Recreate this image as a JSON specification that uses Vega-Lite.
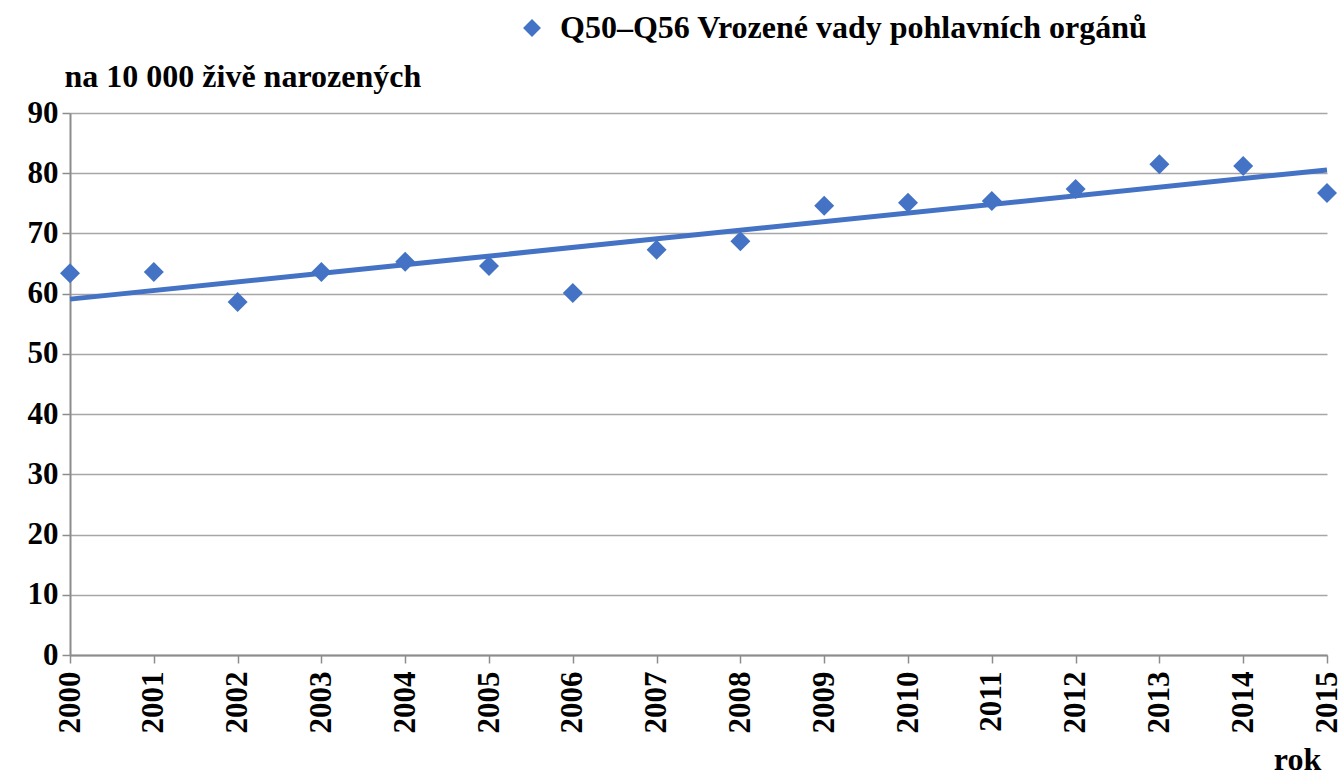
{
  "$schema": "https://vega.github.io/schema/vega-lite/v6.json",
  "width": 1257,
  "height": 542,
  "autosize": "none",
  "padding": {"left": 70, "top": 113, "right": 14, "bottom": 121},
  "background": "white",
  "config": {
    "font": "Liberation Serif",
    "view": {"stroke": null},
    "axis": {
      "labelFont": "Liberation Serif",
      "labelFontWeight": "bold",
      "labelFontSize": 31,
      "labelColor": "black",
      "titleFont": "Liberation Serif",
      "titleFontWeight": "bold",
      "titleFontSize": 32,
      "titleColor": "black",
      "domainColor": "#8c8c8c",
      "domainWidth": 2,
      "tickColor": "#8c8c8c",
      "tickWidth": 1.5,
      "tickSize": 8,
      "gridColor": "#a6a6a6",
      "gridWidth": 1.5
    },
    "legend": {
      "labelFont": "Liberation Serif",
      "labelFontWeight": "bold",
      "labelFontSize": 32,
      "labelColor": "black"
    }
  },
  "data": {
    "values": [
      {"year": 2000, "value": 63.4},
      {"year": 2001, "value": 63.6},
      {"year": 2002, "value": 58.6},
      {"year": 2003, "value": 63.6},
      {"year": 2004, "value": 65.3},
      {"year": 2005, "value": 64.6},
      {"year": 2006, "value": 60.1},
      {"year": 2007, "value": 67.3},
      {"year": 2008, "value": 68.7},
      {"year": 2009, "value": 74.6},
      {"year": 2010, "value": 75.1},
      {"year": 2011, "value": 75.4},
      {"year": 2012, "value": 77.4},
      {"year": 2013, "value": 81.5},
      {"year": 2014, "value": 81.2},
      {"year": 2015, "value": 76.7}
    ]
  },
  "layer": [
    {
      "transform": [
        {"regression": "value", "on": "year", "method": "linear", "extent": [2000, 2015]}
      ],
      "mark": {"type": "line", "color": "#4472C4", "strokeWidth": 5, "clip": false},
      "encoding": {
        "x": {"field": "year", "type": "quantitative"},
        "y": {"field": "value", "type": "quantitative"}
      }
    },
    {
      "transform": [{"calculate": "'Q50–Q56 Vrozené vady pohlavních orgánů'", "as": "series"}],
      "mark": {"type": "point", "shape": "diamond", "filled": true, "size": 400, "opacity": 1, "clip": false},
      "encoding": {
        "x": {
          "field": "year",
          "type": "quantitative",
          "scale": {"domain": [2000, 2015], "nice": false, "zero": false},
          "axis": {
            "values": [2000, 2001, 2002, 2003, 2004, 2005, 2006, 2007, 2008, 2009, 2010, 2011, 2012, 2013, 2014, 2015],
            "format": "d",
            "labelAngle": -90,
            "labelPadding": 8,
            "grid": false,
            "title": "rok",
            "titleAnchor": null,
            "titleX": 1227,
            "titleY": 114,
            "titleAlign": "center",
            "titleBaseline": "alphabetic"
          }
        },
        "y": {
          "field": "value",
          "type": "quantitative",
          "scale": {"domain": [0, 90], "nice": false},
          "axis": {
            "values": [0, 10, 20, 30, 40, 50, 60, 70, 80, 90],
            "labelPadding": 4,
            "title": "na 10 000 živě narozených",
            "titleAngle": 0,
            "titleAnchor": null,
            "titleX": -6,
            "titleY": -27,
            "titleAlign": "left",
            "titleBaseline": "alphabetic"
          }
        },
        "color": {
          "field": "series",
          "type": "nominal",
          "scale": {"range": ["#4472C4"]},
          "legend": {
            "title": null,
            "orient": "none",
            "legendX": 446,
            "legendY": -101,
            "symbolType": "diamond",
            "symbolSize": 320,
            "symbolOpacity": 1,
            "labelOffset": 12,
            "labelLimit": 1000
          }
        }
      }
    }
  ]
}
